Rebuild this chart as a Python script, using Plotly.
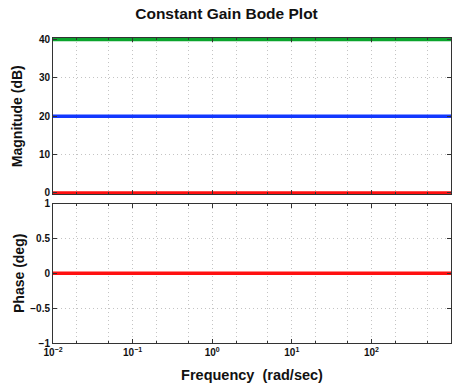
import plotly.graph_objects as go
from plotly.subplots import make_subplots

# Data
freq = [0.01, 1000]                    # rad/sec
mag_gain1 = [0, 0]                     # dB (K = 1)
mag_gain10 = [20, 20]                  # dB (K = 10)
mag_gain100 = [40, 40]                 # dB (K = 100)
phase = [0, 0]                         # deg
xtick_vals = [0.01, 0.1, 1, 10, 100, 1000]
xtick_text = ["10<sup>−2</sup>", "10<sup>−1</sup>", "10<sup>0</sup>",
              "10<sup>1</sup>", "10<sup>2</sup>", "10<sup>3</sup>"]
mag_ticks = [0, 10, 20, 30, 40]
phase_ticks = [-1, -0.5, 0, 0.5, 1]
phase_ticktext = ["−1", "−0.5", "0", "0.5", "1"]

FONT = "Liberation Sans, Arial, Helvetica, sans-serif"
GRID = "#c4c4c4"
DASH = "1px,3px"

fig = make_subplots(rows=2, cols=1, shared_xaxes=False, vertical_spacing=0.036)

fig.add_trace(go.Scatter(x=freq, y=mag_gain100, mode="lines",
                         line=dict(color="#0aa42c", width=3.5)), row=1, col=1)
fig.add_trace(go.Scatter(x=freq, y=mag_gain10, mode="lines",
                         line=dict(color="#1238ff", width=3.5)), row=1, col=1)
fig.add_trace(go.Scatter(x=freq, y=mag_gain1, mode="lines",
                         line=dict(color="#ff1010", width=3.5)), row=1, col=1)
fig.add_trace(go.Scatter(x=freq, y=phase, mode="lines",
                         line=dict(color="#ff1010", width=3.5)), row=2, col=1)

xcommon = dict(
    type="log", range=[-2, 3], tickvals=xtick_vals, automargin=False,
    showline=True, linecolor="#333", linewidth=1, mirror="ticks",
    ticks="inside", ticklen=4, tickcolor="#333",
    showgrid=True, gridcolor=GRID, griddash=DASH, gridwidth=1,
    minor=dict(showgrid=True, gridcolor=GRID, griddash=DASH, gridwidth=1,
               ticks="inside", ticklen=2, tickcolor="#333"),
    zeroline=False,
    tickfont=dict(family=FONT, size=10, color="#111", weight="bold"),
)

fig.update_xaxes(**xcommon, showticklabels=False, row=1, col=1)
fig.update_xaxes(**xcommon, ticktext=xtick_text, showticklabels=True,
                 title=dict(text="Frequency  (rad/sec)",
                            font=dict(family=FONT, size=14.5, color="#111", weight="bold"),
                            standoff=12),
                 row=2, col=1)

ycommon = dict(
    showline=True, linecolor="#333", linewidth=1, mirror="ticks", automargin=False,
    ticks="inside", ticklen=4, tickcolor="#333",
    showgrid=True, gridcolor=GRID, griddash=DASH, gridwidth=1,
    zeroline=False,
    tickfont=dict(family=FONT, size=10, color="#111", weight="bold"),
)
fig.update_yaxes(**ycommon, range=[-0.4, 40.4], tickvals=mag_ticks,
                 title=dict(text="Magnitude (dB)",
                            font=dict(family=FONT, size=14, color="#111", weight="bold"),
                            standoff=12),
                 row=1, col=1)
fig.update_yaxes(**ycommon, range=[-1, 1], tickvals=phase_ticks, ticktext=phase_ticktext,
                 title=dict(text="Phase (deg)",
                            font=dict(family=FONT, size=14, color="#111", weight="bold"),
                            standoff=2),
                 row=2, col=1)

fig.update_layout(
    width=453, height=387,
    margin=dict(l=53, r=2, t=38, b=44),
    paper_bgcolor="white", plot_bgcolor="white",
    showlegend=False,
    title=dict(text="Constant Gain Bode Plot", x=0.5, xanchor="center",
               y=1 - 14 / 387, yanchor="middle", automargin=False,
               font=dict(family=FONT, size=15.5, color="#111", weight="bold")),
)
fig.layout.yaxis.domain = [0.487, 1.0]
fig.layout.yaxis2.domain = [0.0, 0.457]

fig.write_html("out.html", config={"displayModeBar": False},
               post_script="document.body.style.margin='0';document.body.style.overflow='hidden';")
